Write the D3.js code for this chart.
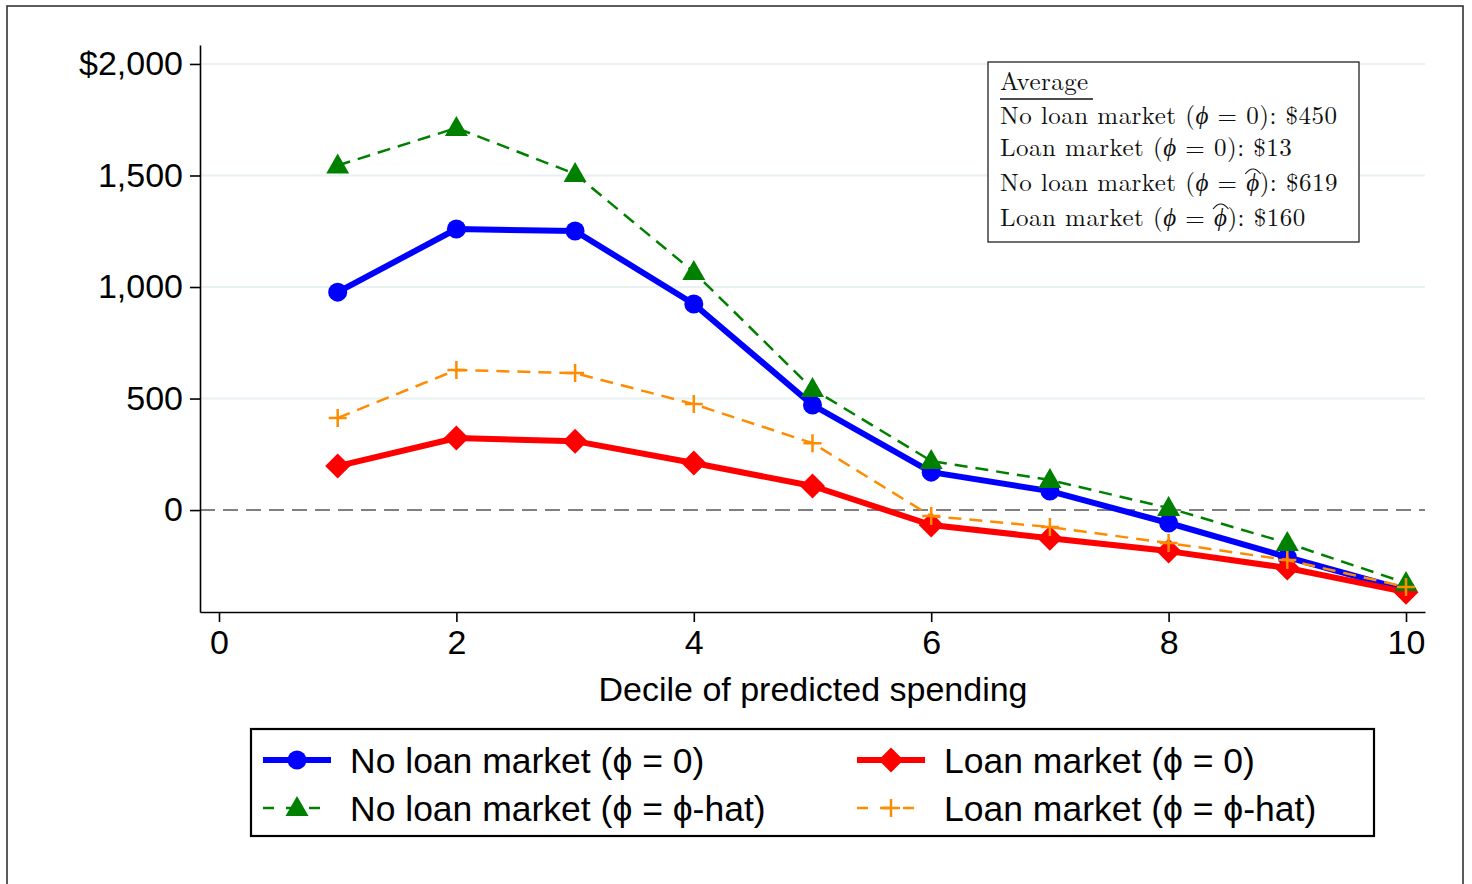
<!DOCTYPE html>
<html lang="en">
<head>
  <meta charset="UTF-8" />
  <title>Decile of predicted spending</title>
  <script src="https://d3js.org/d3.v7.min.js"></script>
  <style>
    html, body { margin: 0; background: #fff; }
    svg { display: block; font-family: "Liberation Sans", Arial, sans-serif; }
    .axis path, .axis line { stroke: #000; stroke-width: 1.6; }
    .axis text { font-size: 34px; fill: #000; font-family: "Liberation Sans", Arial, sans-serif; }
    .inset text { font-family: "Latin Modern Roman", "Liberation Serif", "DejaVu Serif", serif; font-size: 25px; letter-spacing: 0.45px; fill: #111; }
    .legend text { font-size: 35.5px; fill: #000; }
  </style>
</head>
<body>
  <svg id="chart" width="1472" height="884"></svg>
  <script>
    // deciles and series values (dollars)
    const deciles = [1, 2, 3, 4, 5, 6, 7, 8, 9, 10];
    const noLoanPhi0   = [977, 1260, 1251, 924, 471, 170, 85, -58, -211, -359];
    const loanPhi0     = [197, 323, 309, 211, 108, -67, -126, -184, -260, -368];
    const noLoanPhiHat = [1545, 1713, 1507, 1067, 543, 220, 135, 9, -148, -327];
    const loanPhiHat   = [413, 628, 614, 475, 300, -27, -76, -148, -224, -345];

    const yTicks = [0, 500, 1000, 1500, 2000];
    const xTicks = [0, 2, 4, 6, 8, 10];
    const averages = ['$450', '$13', '$619', '$160'];

    const series = [
      { name: 'No loan market (\u03D5 = 0)', values: noLoanPhi0, color: '#0000ff', width: 6, dash: null, marker: 'circle' },
      { name: 'Loan market (\u03D5 = 0)', values: loanPhi0, color: '#ff0000', width: 6, dash: null, marker: 'diamond' },
      { name: 'No loan market (\u03D5 = \u03D5-hat)', values: noLoanPhiHat, color: '#008000', width: 2.5, dash: '13,8', marker: 'triangle' },
      { name: 'Loan market (\u03D5 = \u03D5-hat)', values: loanPhiHat, color: '#ff8c00', width: 2.5, dash: '13,8', marker: 'plus' }
    ];

    const svg = d3.select('#chart');

    // outer frame
    svg.append('rect')
      .attr('x', 7).attr('y', 6).attr('width', 1456).attr('height', 920)
      .attr('fill', 'none').attr('stroke', '#333').attr('stroke-width', 1.6);

    const x = d3.scaleLinear().domain([-0.16, 10.16]).range([200, 1425]);
    const y = d3.scaleLinear().domain([-457, 2085]).range([612, 45]);

    // gridlines
    svg.append('g').selectAll('line')
      .data(yTicks.filter(d => d !== 0))
      .join('line')
      .attr('x1', 200).attr('x2', 1425)
      .attr('y1', d => y(d)).attr('y2', d => y(d))
      .attr('stroke', '#e8f0f2').attr('stroke-width', 2);

    // zero line
    svg.append('line')
      .attr('x1', 200).attr('x2', 1425)
      .attr('y1', y(0)).attr('y2', y(0))
      .attr('stroke', '#808080').attr('stroke-width', 2)
      .attr('stroke-dasharray', '15,8');

    // axes
    svg.append('g')
      .attr('class', 'axis')
      .attr('transform', 'translate(200,0)')
      .call(d3.axisLeft(y).tickValues(yTicks).tickSize(10).tickSizeOuter(0).tickPadding(7)
        .tickFormat(d => d === 2000 ? '$2,000' : d3.format(',')(d)));

    svg.append('g')
      .attr('class', 'axis')
      .attr('transform', 'translate(0,612)')
      .call(d3.axisBottom(x).tickValues(xTicks).tickSize(10).tickSizeOuter(0).tickPadding(8));

    svg.append('text')
      .attr('x', 813).attr('y', 701)
      .attr('text-anchor', 'middle')
      .attr('font-size', 34)
      .text('Decile of predicted spending');

    function drawMarker(g, type, color, cx, cy, scale) {
      const s = scale || 1;
      if (type === 'circle') {
        g.append('circle').attr('cx', cx).attr('cy', cy).attr('r', 9.5 * s).attr('fill', color);
      } else if (type === 'diamond') {
        const r = 12.5 * s;
        g.append('path').attr('d', `M${cx},${cy - r}L${cx + r},${cy}L${cx},${cy + r}L${cx - r},${cy}Z`).attr('fill', color);
      } else if (type === 'triangle') {
        const h = 20 * s, w = 11.5 * s;
        g.append('path').attr('d', `M${cx},${cy - h * 0.6}L${cx + w},${cy + h * 0.4}L${cx - w},${cy + h * 0.4}Z`).attr('fill', color);
      } else if (type === 'plus') {
        const r = 9 * s;
        g.append('path').attr('d', `M${cx - r},${cy}H${cx + r}M${cx},${cy - r}V${cy + r}`)
          .attr('stroke', color).attr('stroke-width', 2.5).attr('fill', 'none');
      }
    }

    const line = d3.line().x((d, i) => x(deciles[i])).y(d => y(d));

    series.forEach(s => {
      const g = svg.append('g');
      g.append('path')
        .attr('d', line(s.values))
        .attr('fill', 'none')
        .attr('stroke', s.color)
        .attr('stroke-width', s.width)
        .attr('stroke-linejoin', 'round')
        .attr('stroke-dasharray', s.dash);
      s.values.forEach((v, i) => drawMarker(g, s.marker, s.color, x(deciles[i]), y(v)));
    });

    // inset box with averages
    const inset = svg.append('g').attr('class', 'inset');
    inset.append('rect')
      .attr('x', 988).attr('y', 62).attr('width', 371).attr('height', 180)
      .attr('fill', '#fff').attr('stroke', '#222').attr('stroke-width', 1.3);
    inset.append('text').attr('x', 1000).attr('y', 90).text('Average');
    inset.append('line').attr('x1', 1000).attr('x2', 1093).attr('y1', 99).attr('y2', 99)
      .attr('stroke', '#111').attr('stroke-width', 1.3);

    const insetRows = [
      { label: 'No loan market', hat: false, y: 124 },
      { label: 'Loan market', hat: false, y: 156 },
      { label: 'No loan market', hat: true, y: 191 },
      { label: 'Loan market', hat: true, y: 226 }
    ];
    insetRows.forEach((r, i) => {
      const t = inset.append('text').attr('x', 1000).attr('y', r.y);
      t.append('tspan').text(r.label + ' (');
      t.append('tspan').attr('font-style', 'italic').text('\u03D5');
      t.append('tspan').text(' = ');
      if (r.hat) {
        t.append('tspan').attr('font-style', 'italic').text('\u03D5');
      } else {
        t.append('tspan').text('0');
      }
      t.append('tspan').text('):  ' + averages[i]);
      if (r.hat) {
        const node = t.node();
        const idx = (r.label + ' (\u03D5 = ').length;
        const x0 = node.getStartPositionOfChar(idx).x;
        const x1 = node.getEndPositionOfChar(idx).x;
        const hy = r.y - 22;
        inset.append('path')
          .attr('d', `M${x0 - 1},${hy + 5}Q${(x0 + x1) / 2},${hy - 5} ${x1 + 1},${hy + 5}`)
          .attr('fill', 'none').attr('stroke', '#111').attr('stroke-width', 1.2);
      }
    });

    // legend
    const legend = svg.append('g').attr('class', 'legend');
    legend.append('rect')
      .attr('x', 251).attr('y', 729).attr('width', 1123).attr('height', 107)
      .attr('fill', '#fff').attr('stroke', '#000').attr('stroke-width', 2.2);
    const legPos = [
      { x: 263, y: 760 }, { x: 857, y: 760 },
      { x: 263, y: 808 }, { x: 857, y: 808 }
    ];
    series.forEach((s, i) => {
      const p = legPos[i];
      legend.append('line')
        .attr('x1', p.x).attr('x2', p.x + 68)
        .attr('y1', p.y).attr('y2', p.y)
        .attr('stroke', s.color).attr('stroke-width', s.width)
        .attr('stroke-dasharray', s.dash ? '11,12' : null);
      drawMarker(legend, s.marker, s.color, p.x + 34, p.y);
      legend.append('text')
        .attr('x', p.x + 87).attr('y', p.y + 13)
        .text(s.name);
    });
  </script>
</body>
</html>
